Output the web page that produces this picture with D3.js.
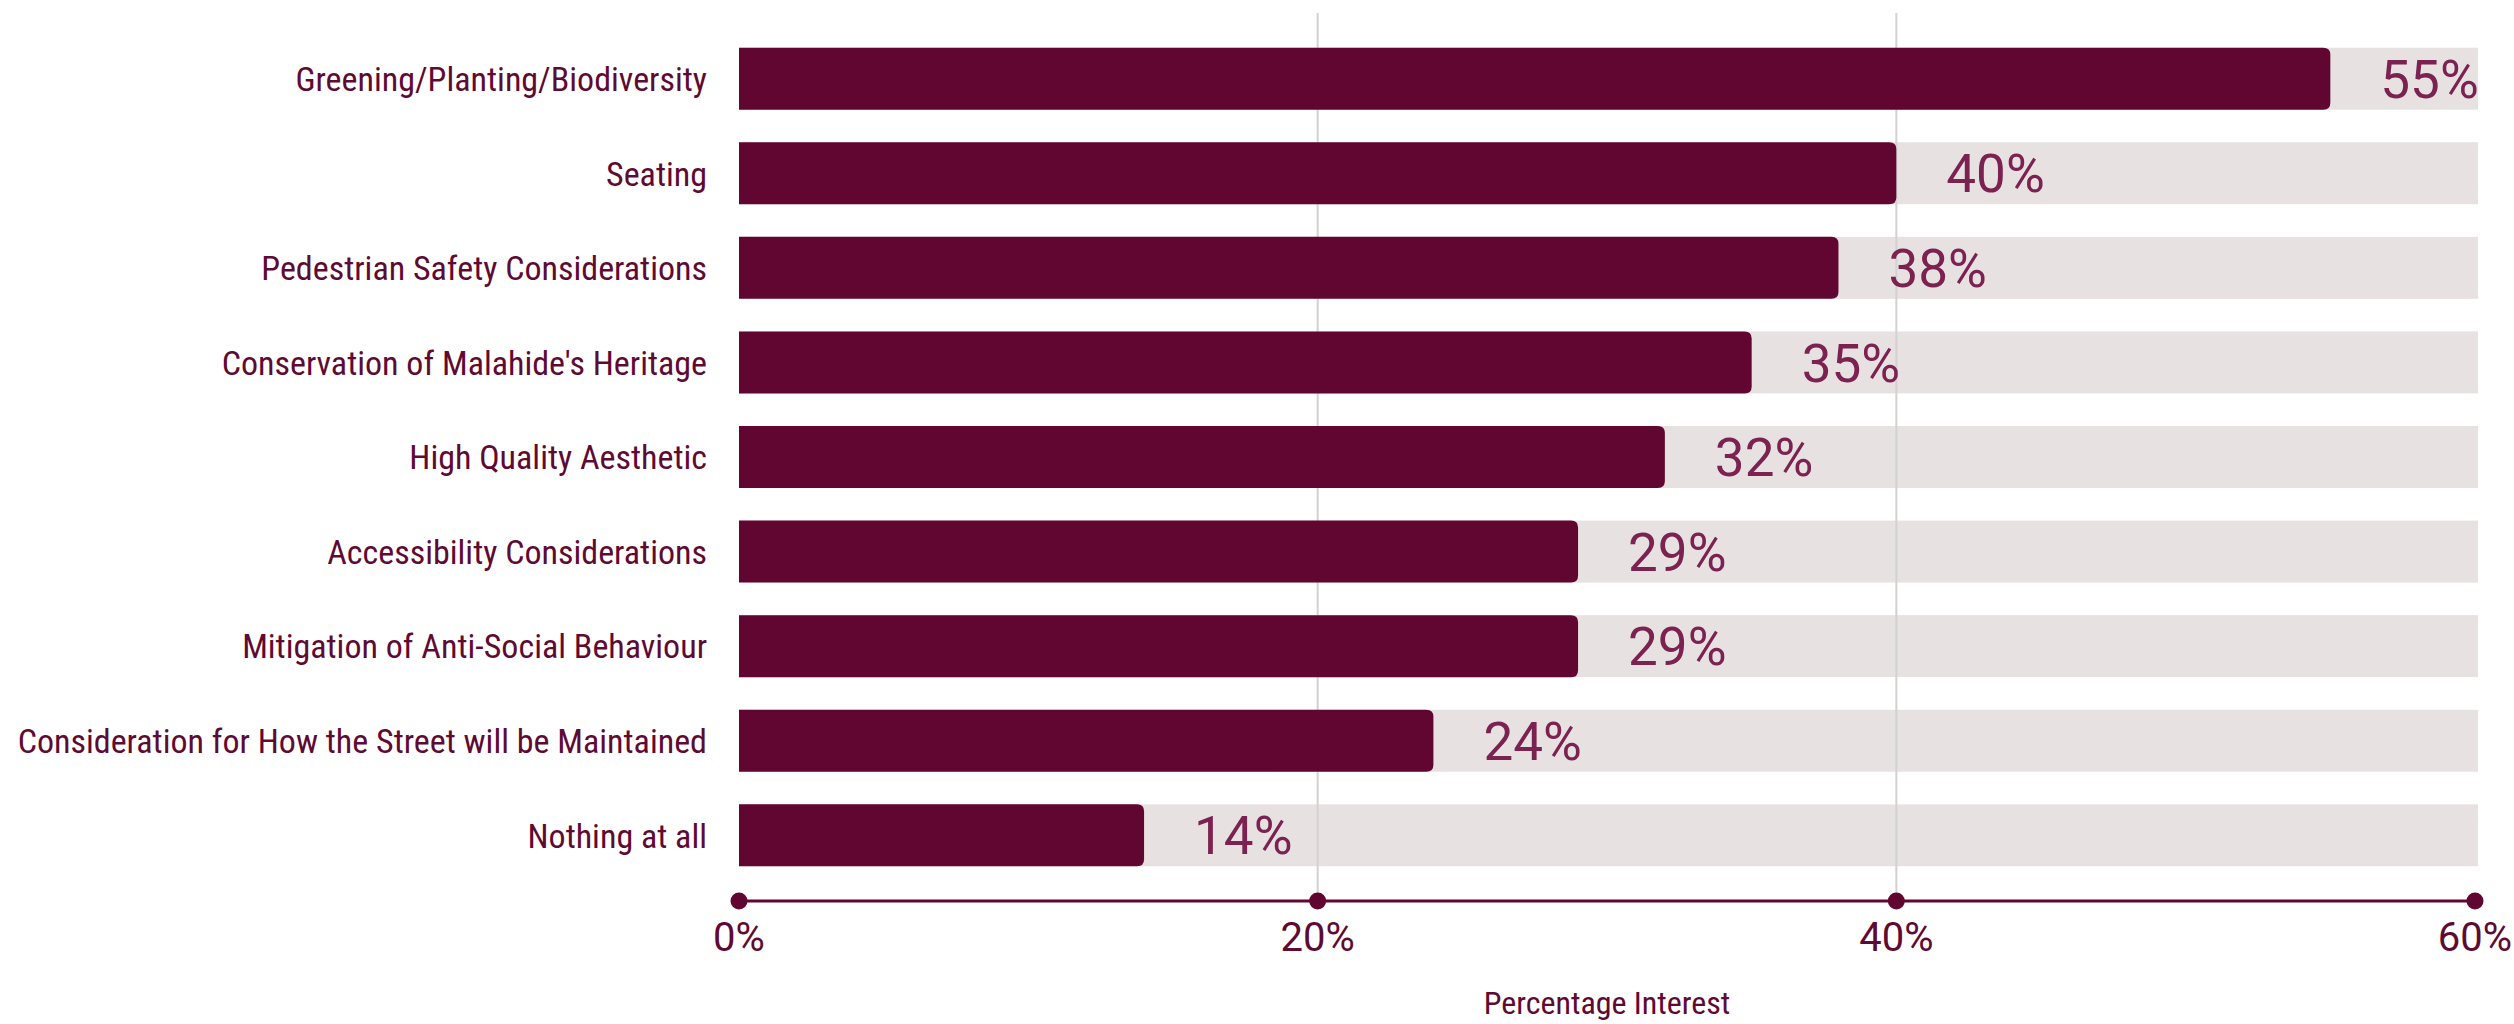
<!DOCTYPE html>
<html>
<head>
<meta charset="utf-8">
<script src="https://cdn.jsdelivr.net/npm/d3@7"></script>
<style>
  body { margin: 0; background: #fff; }
  .cat { font-family: "Liberation Sans Narrow", "Roboto Condensed", "DejaVu Sans Condensed", sans-serif; fill: #5e0a33; }
  .val { font-family: Roboto, sans-serif; fill: #7b2251; }
  .tick-label { font-family: Roboto, sans-serif; fill: #5e0a33; }
</style>
</head>
<body>
<div class="chart"></div>
<script>
var categories = [
  "Greening/Planting/Biodiversity",
  "Seating",
  "Pedestrian Safety Considerations",
  "Conservation of Malahide's Heritage",
  "High Quality Aesthetic",
  "Accessibility Considerations",
  "Mitigation of Anti-Social Behaviour",
  "Consideration for How the Street will be Maintained",
  "Nothing at all"
];
var values = [55, 40, 38, 35, 32, 29, 29, 24, 14];
var tickValues = [0, 20, 40, 60];
var gridValues = [20, 40];
var axisTitle = "Percentage Interest";

var width = 2514, height = 1024;
var plotLeft = 739, plotRight = 2475, plotTop = 13, axisY = 901;

var svg = d3.select(".chart").append("svg")
  .attr("width", width)
  .attr("height", height);

var x = d3.scaleLinear()
  .domain([0, 60])
  .range([plotLeft, plotRight]);

var y = d3.scaleBand()
  .domain(categories)
  .range([plotTop, axisY])
  .paddingInner(0.345)
  .paddingOuter(0.367);

var rows = categories.map(function (c, i) { return { name: c, value: values[i] }; });

// light background bars (full range)
svg.selectAll("rect.bg")
  .data(rows)
  .join("rect")
  .attr("class", "bg")
  .attr("x", x(0))
  .attr("y", function (d) { return y(d.name); })
  .attr("width", x(60) - x(0) + 3)
  .attr("height", y.bandwidth())
  .attr("fill", "#e8e1e2");

// vertical gridlines
svg.selectAll("line.grid")
  .data(gridValues)
  .join("line")
  .attr("class", "grid")
  .attr("x1", function (d) { return x(d); })
  .attr("x2", function (d) { return x(d); })
  .attr("y1", plotTop)
  .attr("y2", axisY)
  .attr("stroke", "#d2d2d2")
  .attr("stroke-width", 2);

// value bars, rounded on the right end only
var r = 7;
svg.selectAll("path.bar")
  .data(rows)
  .join("path")
  .attr("class", "bar")
  .attr("fill", "#600631")
  .attr("d", function (d) {
    var x0 = x(0), x1 = x(d.value), y0 = y(d.name), h = y.bandwidth();
    return "M" + x0 + "," + y0 +
      "H" + (x1 - r) +
      "Q" + x1 + "," + y0 + " " + x1 + "," + (y0 + r) +
      "V" + (y0 + h - r) +
      "Q" + x1 + "," + (y0 + h) + " " + (x1 - r) + "," + (y0 + h) +
      "H" + x0 + "Z";
  });

// value labels
svg.selectAll("text.val")
  .data(rows)
  .join("text")
  .attr("class", "val")
  .attr("x", function (d) { return x(d.value) + 50; })
  .attr("y", function (d) { return y(d.name) + y.bandwidth() / 2; })
  .attr("dy", "0.36em")
  .attr("font-size", 53)
  .text(function (d) { return d.value + "%"; });

// category labels
svg.selectAll("text.cat")
  .data(rows)
  .join("text")
  .attr("class", "cat")
  .attr("x", plotLeft - 32)
  .attr("y", function (d) { return y(d.name) + y.bandwidth() / 2; })
  .attr("dy", "0.36em")
  .attr("text-anchor", "end")
  .attr("font-size", 34)
  .text(function (d) { return d.name; });

// x axis: line, dots, labels
svg.append("line")
  .attr("x1", x(0))
  .attr("x2", x(60))
  .attr("y1", axisY)
  .attr("y2", axisY)
  .attr("stroke", "#600631")
  .attr("stroke-width", 3);

svg.selectAll("circle.dot")
  .data(tickValues)
  .join("circle")
  .attr("class", "dot")
  .attr("cx", function (d) { return x(d); })
  .attr("cy", axisY)
  .attr("r", 8.5)
  .attr("fill", "#600631");

svg.selectAll("text.tick-label")
  .data(tickValues)
  .join("text")
  .attr("class", "tick-label")
  .attr("x", function (d) { return x(d); })
  .attr("y", 951)
  .attr("text-anchor", "middle")
  .attr("font-size", 40)
  .text(function (d) { return d + "%"; });

svg.append("text")
  .attr("class", "cat")
  .attr("x", (x(0) + x(60)) / 2)
  .attr("y", 1014)
  .attr("text-anchor", "middle")
  .attr("font-size", 32)
  .text(axisTitle);
</script>
</body>
</html>
